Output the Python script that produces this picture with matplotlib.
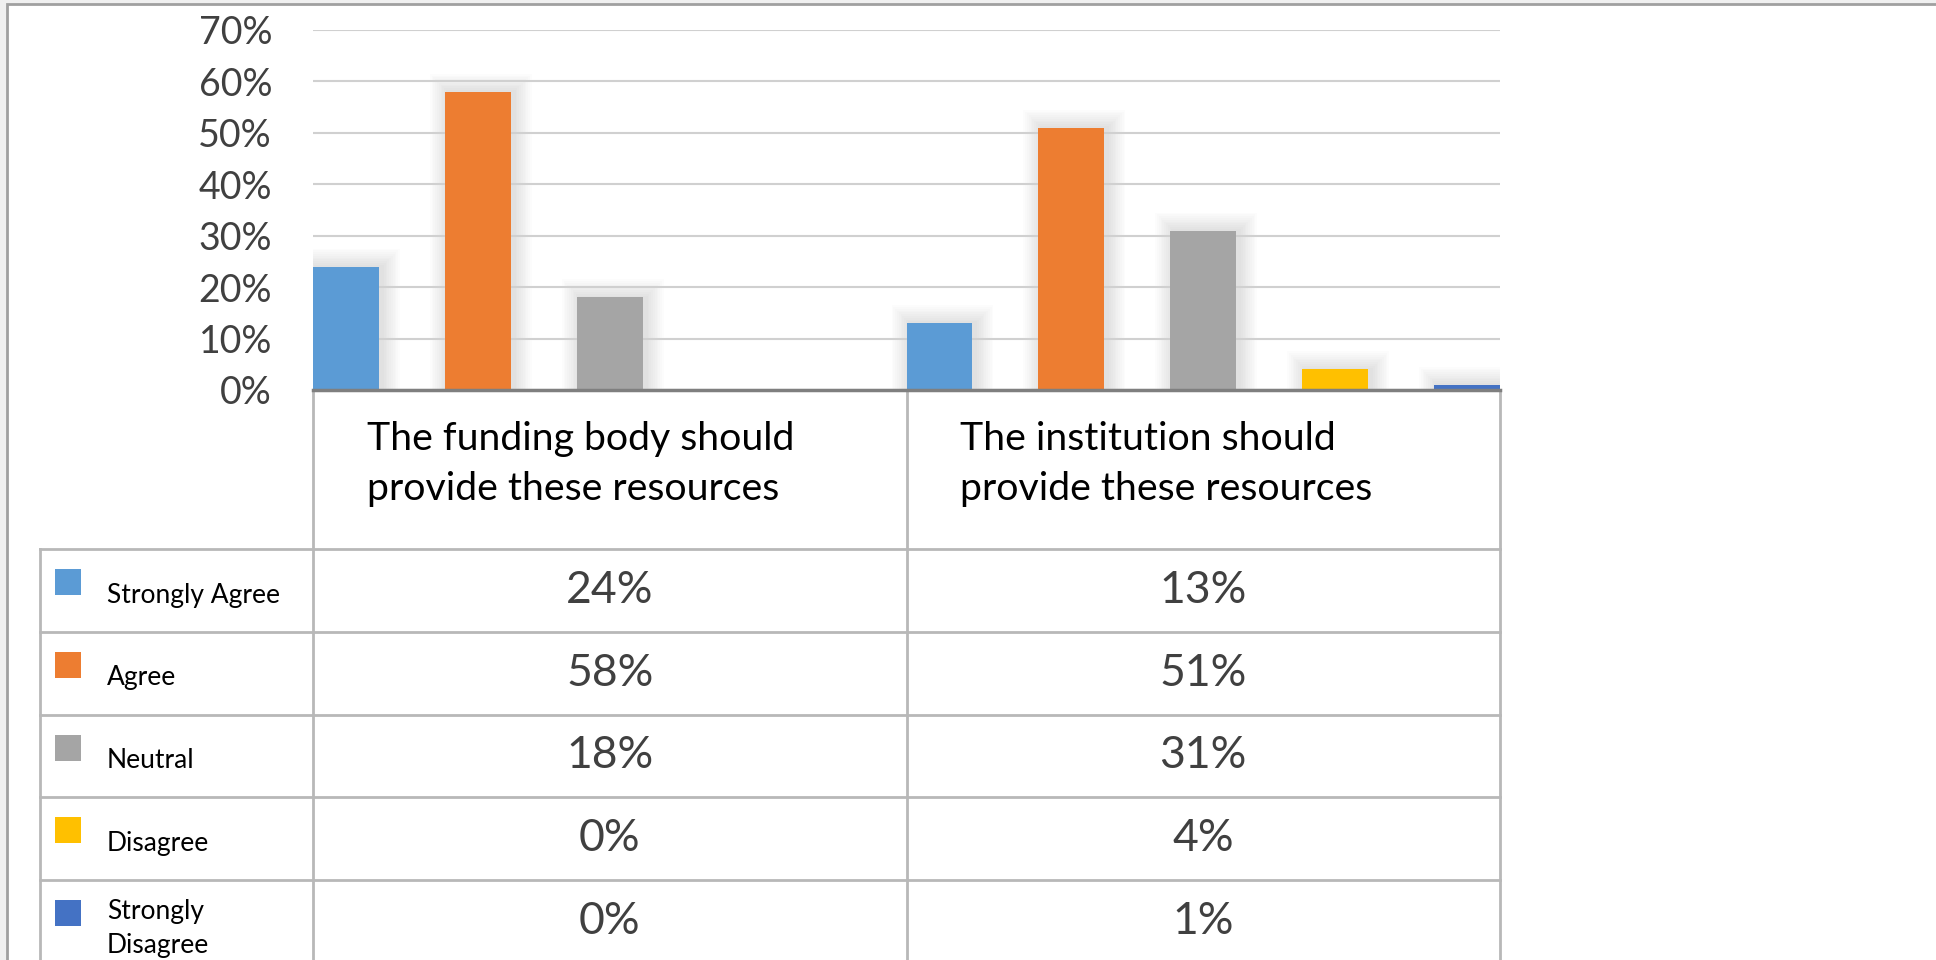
import matplotlib.pyplot as plt
from matplotlib.patches import Rectangle

plt.rcParams['font.family'] = ['Lato', 'DejaVu Sans']

# data
categories = ['The funding body should\nprovide these resources',
              'The institution should\nprovide these resources']
series = ['Strongly Agree', 'Agree', 'Neutral', 'Disagree', 'Strongly\nDisagree']
colors = ['#5b9bd5', '#ed7d31', '#a5a5a5', '#ffc000', '#4472c4']
funding = [24, 58, 18, 0, 0]
institution = [13, 51, 31, 4, 1]
values = [funding, institution]
yticks = [0, 10, 20, 30, 40, 50, 60, 70]

W, H = 1936, 960
fig = plt.figure(figsize=(W / 100, H / 100), dpi=100)
fig.patch.set_facecolor('#f0f0f0')

# background / table layer in pixel coords
bg = fig.add_axes([0, 0, 1, 1])
bg.set_xlim(0, W)
bg.set_ylim(H, 0)
bg.axis('off')
bg.add_patch(Rectangle((7, 4), W, H, facecolor='white', edgecolor='#a0a0a0', lw=2))

# plot area geometry (pixels)
px_left, px_right, px_top, px_zero = 313, 1500, 30, 390
ax = fig.add_axes([px_left / W, (H - px_zero) / H,
                   (px_right - px_left) / W, (px_zero - px_top) / H])
ax.patch.set_visible(False)
ax.set_xlim(0, len(categories))
ax.set_ylim(0, 70)

nser = len(series)
bw = 1 / (2 * nser - 1)
dx = len(categories) / (px_right - px_left)  # data units per pixel
dy = 70 / (px_zero - px_top)

for c, vals in enumerate(values):
    for i, v in enumerate(vals):
        x0 = c + 2 * i * bw
        if v > 0:
            # soft shadow
            for k in range(1, 11):
                ax.add_patch(Rectangle((x0 - k * 1.8 * dx + 3 * dx, 0),
                                       bw + 2 * k * 1.8 * dx, v + k * 1.8 * dy,
                                       facecolor='black', alpha=0.01, lw=0, zorder=1))
        ax.bar(x0, v, width=bw, align='edge', color=colors[i], zorder=3)

ax.set_yticks(yticks)
ax.set_yticklabels([f'{t}%' for t in yticks], fontsize=27, color='#404040')
ax.tick_params(axis='y', length=0, pad=29.5)
ax.set_xticks([])
ax.grid(axis='y', color='#d0d0d0', lw=1.5, zorder=0)
for s in ['top', 'right', 'left']:
    ax.spines[s].set_visible(False)
ax.spines['bottom'].set_color('#7f7f7f')
ax.spines['bottom'].set_linewidth(2.5)
ax.spines['bottom'].set_zorder(4)

# table
line_c = '#b8b8b8'
col_x = [px_left, (px_left + px_right) / 2, px_right]
leg_x = 40
head_bot = 549
row_h = 82.8
row_y = [head_bot + k * row_h for k in range(nser + 1)]

for x in col_x:
    bg.plot([x, x], [px_zero + 2, H + 5], color=line_c, lw=2)
bg.plot([leg_x, leg_x], [head_bot, H + 5], color=line_c, lw=2)
for y in row_y[:-1]:
    bg.plot([leg_x, px_right], [y, y], color=line_c, lw=2)

for c, name in enumerate(categories):
    bg.text(col_x[c] + 54, 464, name, fontsize=28.3, color='black',
            ha='left', va='center', linespacing=1.5)

for i, name in enumerate(series):
    top = row_y[i]
    bg.add_patch(Rectangle((55, top + 20), 26, 26, facecolor=colors[i], lw=0))
    ty = top + 46 if '\n' not in name else top + 48
    bg.text(107, ty, name, fontsize=19, color='black', ha='left',
            va='center', linespacing=1.45)
    for c, vals in enumerate(values):
        cx = (col_x[c] + col_x[c + 1]) / 2
        bg.text(cx, top + row_h / 2, f'{vals[i]}%', fontsize=32, color='#404040',
                ha='center', va='center')

fig.savefig('out.png', dpi=100, facecolor=fig.get_facecolor())
